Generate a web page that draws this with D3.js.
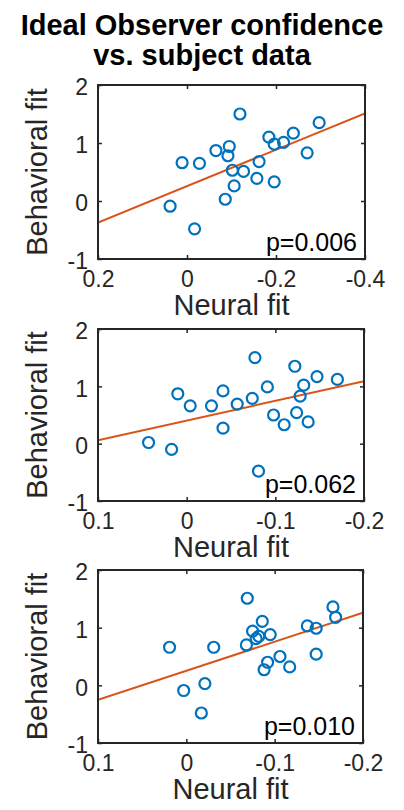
<!DOCTYPE html>
<html>
<head>
<meta charset="utf-8">
<script src="https://cdn.jsdelivr.net/npm/d3@7"></script>
<style>
  body { margin: 0; background: #fff; }
  svg { display: block; font-family: "Liberation Sans", Arial, sans-serif; }
</style>
</head>
<body>
<svg id="chart" width="404" height="810"></svg>
<script>
(function () {
  'use strict';

  // values
  const title = ['Ideal Observer confidence', 'vs. subject data'];
  const xLabel = 'Neural fit';
  const yLabel = 'Behavioral fit';

  const yTicks = [-1, 0, 1, 2];
  const yTickLabels = ['-1', '0', '1', '2'];

  const xTicks1 = [0.2, 0, -0.2, -0.4];
  const xTickLabels1 = ['0.2', '0', '-0.2', '-0.4'];
  const xTicks23 = [0.1, 0, -0.1, -0.2];
  const xTickLabels23 = ['0.1', '0', '-0.1', '-0.2'];

  const neural1 = [0.038, -0.017, 0.011, -0.028, -0.065, -0.095, -0.092, -0.119, -0.102, -0.127, -0.106,
    -0.086, -0.162, -0.157, -0.196, -0.184, -0.196, -0.217, -0.239, -0.270, -0.297];
  const behavioral1 = [-0.09, -0.48, 0.66, 0.65, 0.87, 0.94, 0.78, 1.50, 0.53, 0.51, 0.26,
    0.03, 0.68, 0.39, 0.33, 1.10, 0.98, 1.01, 1.17, 0.83, 1.35];
  const fit1 = [[0.2, -0.37], [-0.4, 1.51]];

  const neural2 = [0.043, 0.017, 0.010, -0.004, -0.028, -0.041, -0.041, -0.057, -0.074, -0.077, -0.091,
    -0.081, -0.098, -0.110, -0.124, -0.128, -0.132, -0.122, -0.137, -0.147, -0.170];
  const behavioral2 = [0.02, -0.10, 0.87, 0.66, 0.66, 0.92, 0.27, 0.69, 0.79, 1.50, 0.99,
    -0.48, 0.50, 0.33, 0.54, 0.83, 1.02, 1.35, 0.38, 1.17, 1.12];
  const fit2 = [[0.1, 0.06], [-0.2, 1.09]];

  const neural3 = [0.019, 0.003, -0.017, -0.021, -0.031, -0.069, -0.068, -0.075, -0.079, -0.082, -0.086,
    -0.095, -0.088, -0.092, -0.106, -0.117, -0.137, -0.147, -0.147, -0.166, -0.169];
  const behavioral3 = [0.66, -0.09, -0.48, 0.03, 0.66, 1.51, 0.70, 0.94, 0.81, 0.85, 1.11,
    0.88, 0.27, 0.40, 0.50, 0.32, 1.03, 0.99, 0.54, 1.36, 1.18];
  const fit3 = [[0.1, -0.25], [-0.2, 1.26]];

  const pValues = ['p=0.006', 'p=0.062', 'p=0.010'];

  const panels = [
    { xs: neural1, ys: behavioral1, fit: fit1, ticks: xTicks1, labels: xTickLabels1, p: pValues[0],
      box: { left: 98, right: 365, top: 85, bottom: 259 } },
    { xs: neural2, ys: behavioral2, fit: fit2, ticks: xTicks23, labels: xTickLabels23, p: pValues[1],
      box: { left: 98, right: 364, top: 329, bottom: 501 } },
    { xs: neural3, ys: behavioral3, fit: fit3, ticks: xTicks23, labels: xTickLabels23, p: pValues[2],
      box: { left: 98, right: 363, top: 570, bottom: 743 } },
  ];

  const AXIS_COLOR = '#262626';
  const BLUE = '#0072BD';
  const ORANGE = '#D95319';
  const TICK = 4;
  const TICK_FONT = 23;

  const svg = d3.select('#chart');

  svg.append('g').classed('title', true)
    .selectAll('text').data(title)
    .enter().append('text')
    .attr('x', 202)
    .attr('y', (d, i) => 35 + i * 30)
    .attr('text-anchor', 'middle')
    .attr('font-size', 29)
    .attr('font-weight', 'bold')
    .attr('fill', '#000')
    .text(d => d);

  function renderPanel(panel) {
    const b = panel.box;
    const ticks = panel.ticks;
    const scaleX = d3.scaleLinear()
      .domain([ticks[0], ticks[ticks.length - 1]])
      .range([b.left, b.right]);
    const scaleY = d3.scaleLinear()
      .domain([yTicks[0], yTicks[yTicks.length - 1]])
      .range([b.bottom, b.top]);

    const g = svg.append('g').classed('panel', true);

    // fitted line gets clipped to the box
    const clipId = 'clip' + b.top;
    g.append('clipPath').attr('id', clipId)
      .append('rect')
      .attr('x', b.left).attr('y', b.top)
      .attr('width', b.right - b.left).attr('height', b.bottom - b.top);

    // axes with inward ticks on all four sides
    const bottom = g.append('g')
      .attr('transform', `translate(0,${b.bottom})`)
      .call(d3.axisBottom(scaleX).tickValues(ticks)
        .tickFormat((d, i) => panel.labels[i])
        .tickSizeInner(-TICK).tickSizeOuter(0).tickPadding(12));
    g.append('g')
      .attr('transform', `translate(0,${b.top})`)
      .call(d3.axisTop(scaleX).tickValues(ticks).tickFormat('')
        .tickSizeInner(-TICK).tickSizeOuter(0));
    const left = g.append('g')
      .attr('transform', `translate(${b.left},0)`)
      .call(d3.axisLeft(scaleY).tickValues(yTicks)
        .tickFormat((d, i) => yTickLabels[i])
        .tickSizeInner(-TICK).tickSizeOuter(0).tickPadding(10));
    g.append('g')
      .attr('transform', `translate(${b.right},0)`)
      .call(d3.axisRight(scaleY).tickValues(yTicks).tickFormat('')
        .tickSizeInner(-TICK).tickSizeOuter(0));

    g.selectAll('.domain').remove();
    g.selectAll('g[font-family]').attr('font-family', null);
    g.selectAll('.tick line').attr('stroke', AXIS_COLOR).attr('stroke-width', 1.5);
    bottom.selectAll('text').attr('font-size', TICK_FONT).attr('fill', AXIS_COLOR);
    left.selectAll('text').attr('font-size', TICK_FONT).attr('fill', AXIS_COLOR)
      .attr('dy', '0.42em');

    g.append('g').attr('clip-path', `url(#${clipId})`)
      .append('line')
      .attr('x1', scaleX(panel.fit[0][0])).attr('y1', scaleY(panel.fit[0][1]))
      .attr('x2', scaleX(panel.fit[1][0])).attr('y2', scaleY(panel.fit[1][1]))
      .attr('stroke', ORANGE)
      .attr('stroke-width', 2);

    g.append('g').classed('points', true)
      .selectAll('circle').data(panel.xs)
      .enter().append('circle')
      .attr('cx', d => scaleX(d))
      .attr('cy', (d, i) => scaleY(panel.ys[i]))
      .attr('r', 5.5)
      .attr('fill', 'none')
      .attr('stroke', BLUE)
      .attr('stroke-width', 2.2);

    g.append('rect')
      .attr('x', b.left).attr('y', b.top)
      .attr('width', b.right - b.left).attr('height', b.bottom - b.top)
      .attr('fill', 'none')
      .attr('stroke', AXIS_COLOR)
      .attr('stroke-width', 2);

    g.append('text')
      .attr('x', b.right - 8)
      .attr('y', b.bottom - 8)
      .attr('text-anchor', 'end')
      .attr('font-size', 25)
      .attr('fill', '#000')
      .text(panel.p);

    g.append('text')
      .attr('x', (b.left + b.right) / 2)
      .attr('y', b.bottom + 56)
      .attr('text-anchor', 'middle')
      .attr('font-size', 29)
      .attr('fill', AXIS_COLOR)
      .text(xLabel);

    g.append('text')
      .attr('transform', `translate(47,${(b.top + b.bottom) / 2}) rotate(-90)`)
      .attr('text-anchor', 'middle')
      .attr('font-size', 29)
      .attr('fill', AXIS_COLOR)
      .text(yLabel);
  }

  panels.forEach(renderPanel);

}());
</script>
</body>
</html>
